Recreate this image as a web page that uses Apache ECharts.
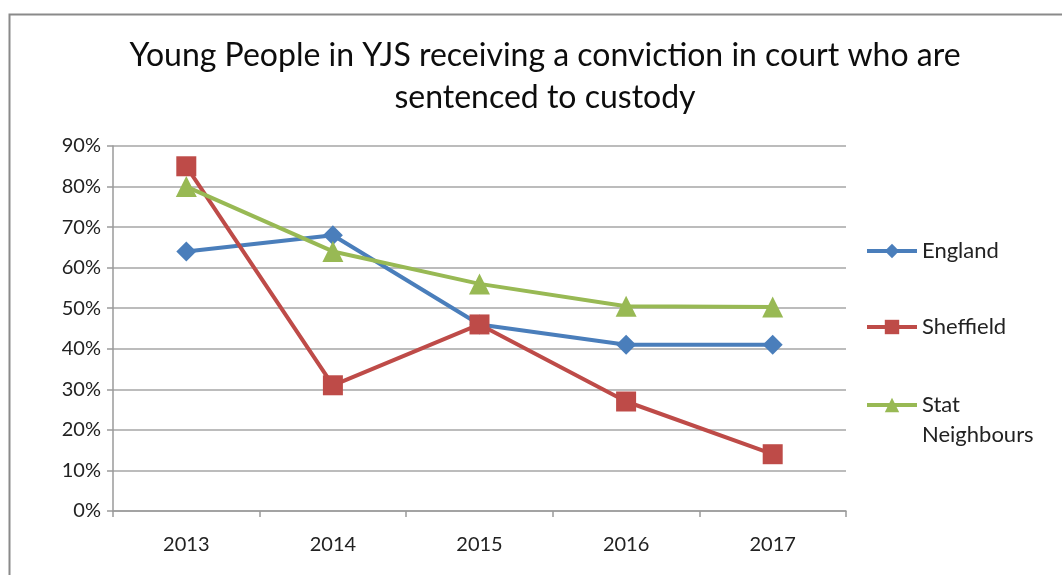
<!DOCTYPE html>
<html>
<head>
<meta charset="utf-8" />
<title>Young People in YJS sentenced to custody</title>
<script src="https://cdn.jsdelivr.net/npm/echarts@6/dist/echarts.min.js"></script>
<style>
  html, body { margin: 0; padding: 0; background: #fff; }
  #chart { width: 1062px; height: 575px; }
</style>
</head>
<body>
<div id="chart"></div>
<script>
// data (percent)
const years = ["2013", "2014", "2015", "2016", "2017"];
const england = [64, 68, 46, 41, 41];
const sheffield = [85, 31, 46, 27, 14];
const statNeighbours = [80, 64, 56, 50.5, 50.3];

const seriesNames = ["England", "Sheffield", "Stat Neighbours"];
const seriesColors = ["#4a7ebb", "#be4b48", "#98b954"];
const seriesSymbols = ["diamond", "rect", "triangle"];
const seriesData = [england, sheffield, statNeighbours];

const FONT = "Lato";
const chart = echarts.init(document.getElementById("chart"));

// one legend per item so the two-line label lines up like the Excel one
const legendTops = [231, 307, 355];

const option = {
  animation: false,
  backgroundColor: "#fff",
  title: {
    text: "Young People in YJS receiving a conviction in court who are\nsentenced to custody",
    left: 540,
    textAlign: "center",
    top: 30,
    textStyle: {
      fontFamily: FONT,
      fontSize: 32,
      fontWeight: "normal",
      color: "#0d0d0d",
      lineHeight: 42
    }
  },
  legend: seriesNames.map((name, i) => ({
    orient: "vertical",
    left: 860,
    top: legendTops[i],
    itemWidth: 50,
    itemHeight: 18,
    data: [name],
    lineStyle: { width: 4 },
    // blank first line keeps "Stat" level with the marker
    formatter: (n) => (n === "Stat Neighbours" ? " \nStat\nNeighbours" : n),
    textStyle: {
      fontFamily: FONT,
      fontSize: 22,
      color: "#222",
      lineHeight: 30
    }
  })),
  grid: { left: 113, right: 216, top: 146, bottom: 64 },
  xAxis: {
    type: "category",
    data: years,
    axisLine: { lineStyle: { color: "#9a9a9a", width: 1.5 } },
    axisTick: { show: true, length: 6, lineStyle: { color: "#9a9a9a", width: 1.5 } },
    axisLabel: { fontFamily: FONT, fontSize: 20, color: "#222", margin: 24 }
  },
  yAxis: {
    type: "value",
    min: 0,
    max: 90,
    interval: 10,
    axisLine: { show: true, lineStyle: { color: "#9a9a9a", width: 1.5 } },
    axisTick: { show: true, length: 6, lineStyle: { color: "#9a9a9a", width: 1.5 } },
    axisLabel: { fontFamily: FONT, fontSize: 20, color: "#222", margin: 12, formatter: "{value}%" },
    splitLine: { lineStyle: { color: "#a6a6a6", width: 1.5 } }
  },
  series: seriesNames.map((name, i) => ({
    name: name,
    type: "line",
    data: seriesData[i],
    symbol: seriesSymbols[i],
    symbolSize: i === 2 ? 21 : 20,
    showAllSymbol: true,
    itemStyle: { color: seriesColors[i] },
    lineStyle: { color: seriesColors[i], width: 4 }
  })),
  graphic: [
    {
      type: "rect",
      left: 7,
      top: 12,
      shape: { width: 1200, height: 700 },
      style: { fill: "none", stroke: "#8a8a8a", lineWidth: 2 },
      silent: true
    }
  ]
};

chart.setOption(option);
</script>
</body>
</html>
